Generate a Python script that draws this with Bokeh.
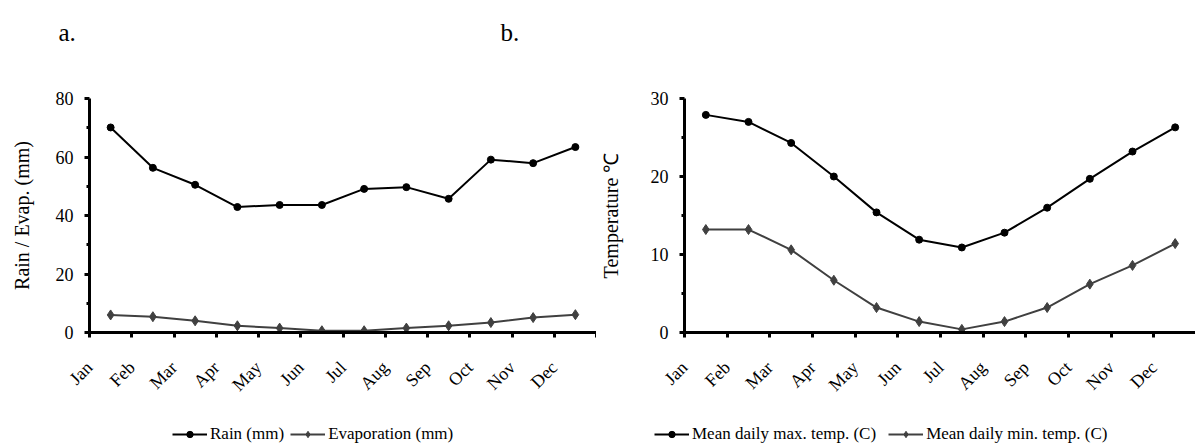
from math import pi
from bokeh.plotting import figure
from bokeh.layouts import row, column
from bokeh.models import Range1d, FixedTicker, Legend, LegendItem
from bokeh.core.properties import value
from bokeh.embed import file_html
from bokeh.resources import INLINE

months = ["Jan", "Feb", "Mar", "Apr", "May", "Jun", "Jul", "Aug", "Sep", "Oct", "Nov", "Dec"]
rain = [70.1, 56.3, 50.5, 42.9, 43.6, 43.6, 49.1, 49.7, 45.7, 59.1, 57.9, 63.4]
evap = [6.0, 5.4, 4.0, 2.3, 1.5, 0.6, 0.6, 1.5, 2.3, 3.4, 5.1, 6.1]
tmax = [27.9, 27.0, 24.3, 20.0, 15.4, 11.9, 10.9, 12.8, 16.0, 19.7, 23.2, 26.3]
tmin = [13.2, 13.2, 10.6, 6.7, 3.2, 1.4, 0.4, 1.4, 3.2, 6.2, 8.6, 11.4]
panel_tags = ["a.", "b."]
legend_a = ["Rain (mm)", "Evaporation (mm)"]
legend_b = ["Mean daily max. temp. (C)", "Mean daily min. temp. (C)"]

FONT = "Liberation Serif"
C1 = "black"
C2 = "#404040"
xs = [i + 0.5 for i in range(len(months))]
NAN = float("nan")


def make_fig(frame_w, border_left, border_top, border_bottom, ymax, yticks, yminor, ylabel,
             s1, s2, ylab_standoff):
    p = figure(frame_width=frame_w, frame_height=234,
               x_range=Range1d(0, 12), y_range=Range1d(0, ymax),
               output_backend="svg", toolbar_location=None,
               min_border_left=border_left, min_border_right=0,
               min_border_top=border_top, min_border_bottom=border_bottom)
    p.outline_line_color = None
    p.xgrid.visible = False
    p.ygrid.visible = False

    for ax in p.axis:
        ax.axis_line_width = 3
        ax.axis_line_color = "black"
        ax.major_tick_line_width = 3
        ax.major_tick_line_color = "black"
        ax.minor_tick_line_width = 3
        ax.minor_tick_line_color = "black"
        ax.major_tick_in = 0
        ax.major_tick_out = 5
        ax.minor_tick_in = 0
        ax.minor_tick_out = 3
        ax.major_label_text_font = FONT
        ax.major_label_text_color = "black"

    xa = p.xaxis[0]
    xa.ticker = FixedTicker(ticks=list(range(13)), minor_ticks=[])
    ov = {i: m for i, m in enumerate(months)}
    ov[12] = ""
    xa.major_label_overrides = ov
    xa.major_label_orientation = pi / 4
    xa.major_label_text_font_size = "18px"
    xa.major_label_standoff = 27

    ya = p.yaxis[0]
    ya.ticker = FixedTicker(ticks=yticks, minor_ticks=yminor)
    ya.major_label_text_font_size = "18px"
    ya.major_label_standoff = 11
    ya.axis_label = ylabel
    ya.axis_label_text_font = FONT
    ya.axis_label_text_font_size = "20px"
    ya.axis_label_text_font_style = "normal"
    ya.axis_label_text_color = "black"
    ya.axis_label_standoff = ylab_standoff

    p.line(xs, s1, line_color=C1, line_width=2)
    p.scatter(xs, s1, marker="circle", size=7, fill_color=C1, line_color=C1)
    p.line(xs, s2, line_color=C2, line_width=2)
    p.scatter(xs, s2, marker="diamond", size=10, fill_color=C2, line_color=C2)
    return p


# header with panel tags
header = figure(width=1195, height=60, x_range=Range1d(0, 1195), y_range=Range1d(60, 0),
                output_backend="svg", toolbar_location=None,
                min_border_left=0, min_border_right=0, min_border_top=0, min_border_bottom=0)
header.axis.visible = False
header.grid.visible = False
header.outline_line_color = None
header.text(x=[58, 500], y=[32, 32], text=panel_tags, text_font=value(FONT),
            text_font_size="25px", text_color="black", text_baseline="alphabetic")

pa = make_fig(507, 89, 38, 90, 80, [0, 20, 40, 60, 80], [10, 30, 50, 70],
              "Rain / Evap. (mm)", rain, evap, 20)
pb = make_fig(512, 85, 36, 92, 30, [0, 10, 20, 30], [5, 15, 25],
              "Temperature \u2103", tmax, tmin, 26)

# footer holding the two legends (legend-only renderers carry no visible data)
footer = figure(width=1195, height=24, x_range=Range1d(0, 1), y_range=Range1d(0, 1),
                output_backend="svg", toolbar_location=None,
                min_border_left=0, min_border_right=0, min_border_top=0, min_border_bottom=0)
footer.axis.visible = False
footer.grid.visible = False
footer.outline_line_color = None


def legend_items(labels):
    r1 = footer.line([NAN], [NAN], line_color=C1, line_width=2)
    k1 = footer.scatter([NAN], [NAN], marker="circle", size=6, fill_color=C1, line_color=C1)
    r2 = footer.line([NAN], [NAN], line_color=C2, line_width=2)
    k2 = footer.scatter([NAN], [NAN], marker="diamond", size=8, fill_color=C2, line_color=C2)
    return [LegendItem(label=labels[0], renderers=[r1, k1]),
            LegendItem(label=labels[1], renderers=[r2, k2])]


for labels, lx, sp in ((legend_a, 172, 6), (legend_b, 654, 12)):
    lg = Legend(items=legend_items(labels), orientation="horizontal", location=(lx, 2),
                glyph_width=35, glyph_height=16, label_standoff=3, spacing=sp,
                label_text_font=FONT, label_text_font_size="17px",
                label_text_color="black", label_height=18,
                border_line_color=None, background_fill_alpha=0, padding=0, margin=0)
    footer.add_layout(lg)

layout = column(header, row(pa, pb, spacing=0), footer, spacing=0)
open("out.html", "w").write(file_html(layout, INLINE))
